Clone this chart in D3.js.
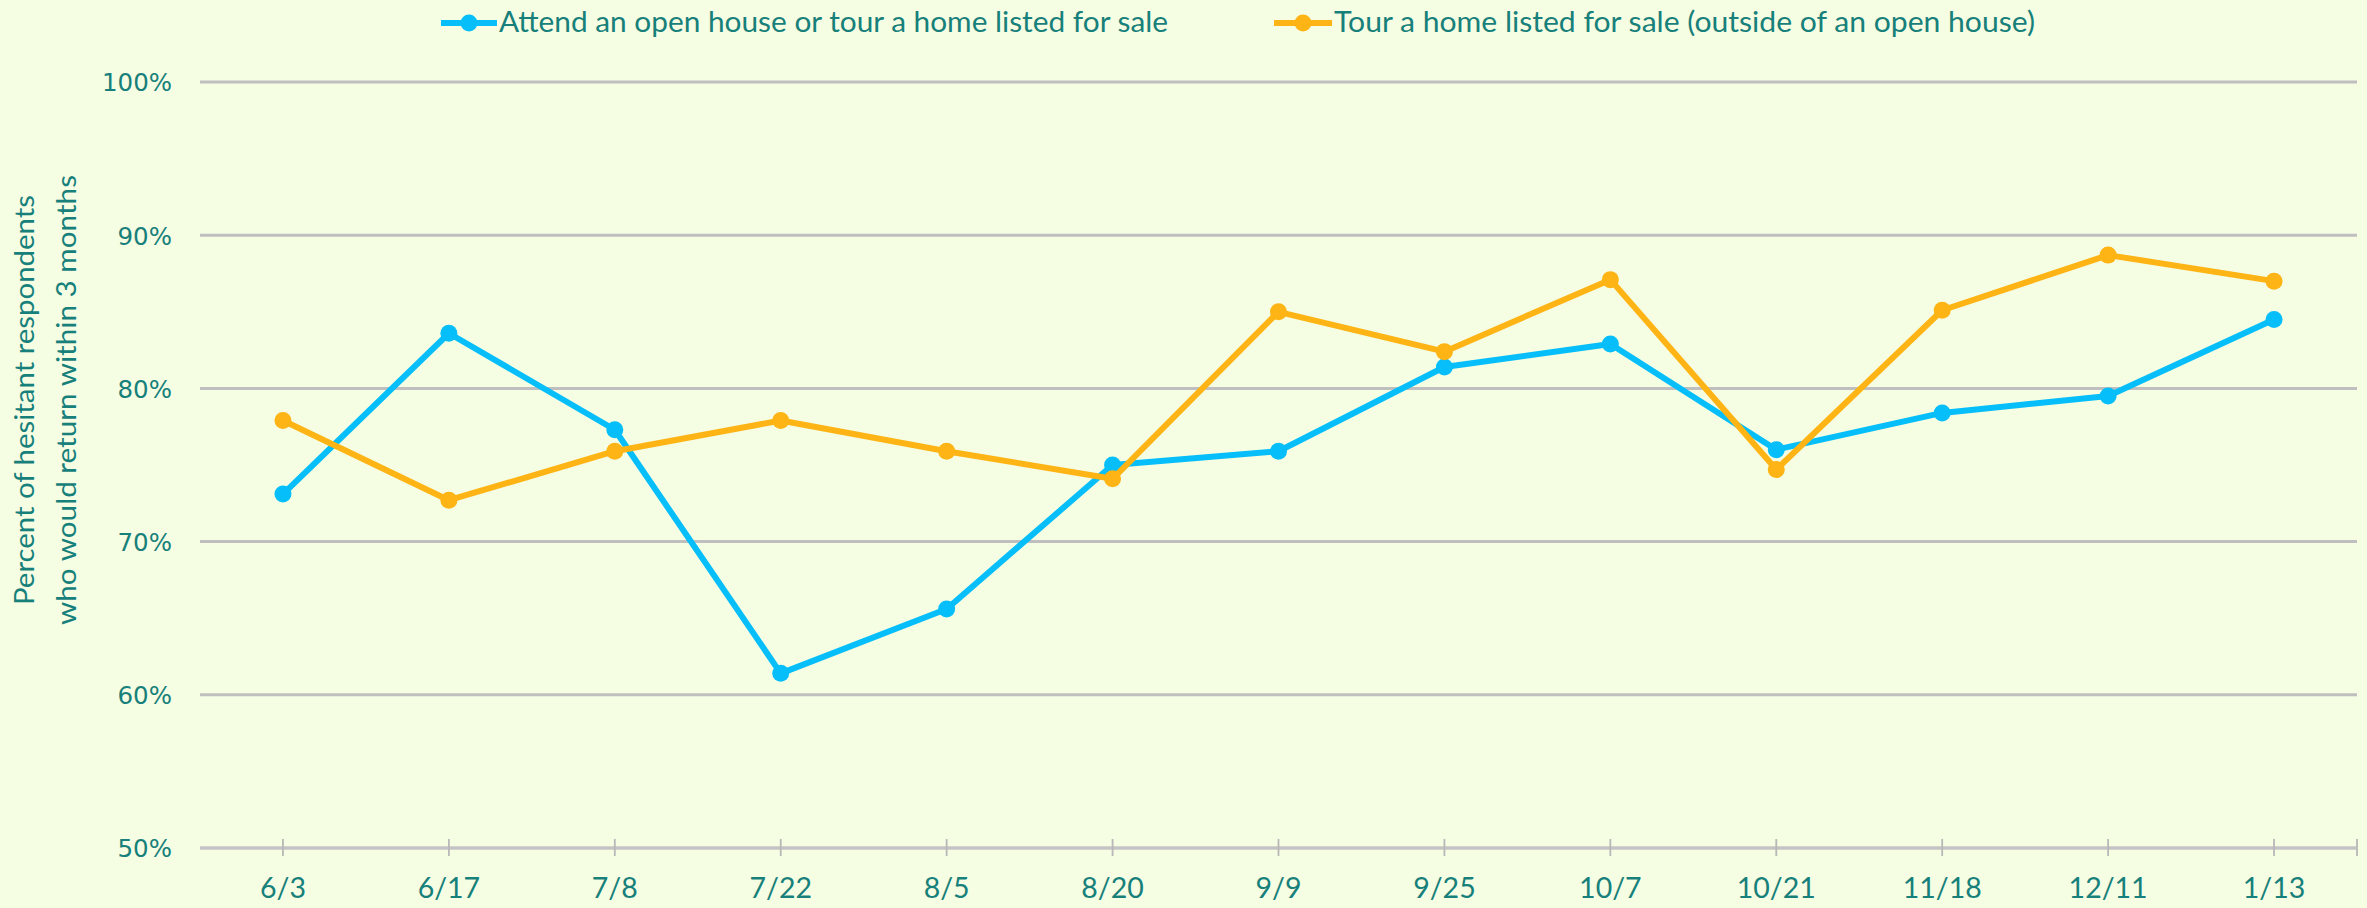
<!DOCTYPE html>
<html>
<head>
<meta charset="utf-8">
<script src="https://cdn.jsdelivr.net/npm/d3@7"></script>
<style>
  html, body { margin: 0; padding: 0; background: #F5FDE3; }
  svg { display: block; }
</style>
</head>
<body>
<svg id="chart" width="2367" height="908"></svg>
<script>
const categories = ["6/3","6/17","7/8","7/22","8/5","8/20","9/9","9/25","10/7","10/21","11/18","12/11","1/13"];
const attendValues = [73.1, 83.6, 77.3, 61.4, 65.6, 75.0, 75.9, 81.4, 82.9, 76.0, 78.4, 79.5, 84.5];
const tourValues   = [77.9, 72.7, 75.9, 77.9, 75.9, 74.1, 85.0, 82.4, 87.1, 74.7, 85.1, 88.7, 87.0];
const seriesNames = ["Attend an open house or tour a home listed for sale", "Tour a home listed for sale (outside of an open house)"];
const seriesColors = ["#06BEF9", "#FDB414"];
const yTicks = [50, 60, 70, 80, 90, 100];
const yTitleLines = ["Percent of hesitant respondents", "who would return within 3 months"];

(function () {
const W = 2367, H = 908;
const plotLeft = 200, plotRight = 2357, plotTop = 82, plotBottom = 848;
const textColor = "#17807A";
const gridColor = "#BFBFBF";

const svg = d3.select("#chart");
svg.append("rect").attr("width", W).attr("height", H).attr("fill", "#F5FDE3");

const x = d3.scaleBand().domain(categories).range([plotLeft, plotRight]).padding(0);
const cx = d => x(d) + x.bandwidth() / 2;
const y = d3.scaleLinear().domain([50, 100]).range([plotBottom, plotTop]);

// gridlines
svg.append("g").selectAll("line").data(yTicks.filter(t => t > 50)).join("line")
  .attr("x1", plotLeft).attr("x2", plotRight)
  .attr("y1", d => y(d)).attr("y2", d => y(d))
  .attr("stroke", gridColor).attr("stroke-width", 3);

// y axis labels
const yAxis = d3.axisLeft(y).tickValues(yTicks).tickFormat(d => d + "%").tickSize(0).tickPadding(0);
const yg = svg.append("g").attr("transform", `translate(172,0)`).call(yAxis);
yg.select(".domain").remove();
yg.selectAll("text")
  .attr("fill", textColor)
  .attr("font-family", "DejaVu Sans")
  .attr("font-size", 24.5)
  .attr("dy", "0.36em");

// x axis
svg.append("line").attr("x1", plotLeft).attr("x2", plotRight).attr("y1", plotBottom).attr("y2", plotBottom)
  .attr("stroke", "#C4C4C4").attr("stroke-width", 3.5);
const tickXs = categories.map(cx).concat([plotRight]);
svg.append("g").selectAll("line").data(tickXs).join("line")
  .attr("x1", d => d).attr("x2", d => d)
  .attr("y1", plotBottom - 9).attr("y2", plotBottom + 8)
  .attr("stroke", "#B8B8B8").attr("stroke-width", 1.8);

const xAxis = d3.axisBottom(x).tickSize(0).tickPadding(0);
const xg = svg.append("g").attr("transform", `translate(0,${plotBottom})`).call(xAxis);
xg.select(".domain").remove();
xg.selectAll("text")
  .attr("fill", textColor)
  .attr("font-family", "Lato")
  .attr("font-size", 28.5)
  .attr("y", 50).attr("dy", 0);

// y title
const titleG = svg.append("g").attr("transform", "translate(0,400) rotate(-90)");
titleG.append("text").text(yTitleLines[0])
  .attr("x", 0).attr("y", 34).attr("text-anchor", "middle")
  .attr("fill", textColor).attr("font-family", "Lato").attr("font-size", 27)
  .attr("textLength", 410).attr("lengthAdjust", "spacingAndGlyphs");
titleG.append("text").text(yTitleLines[1])
  .attr("x", 0).attr("y", 76).attr("text-anchor", "middle")
  .attr("fill", textColor).attr("font-family", "Lato").attr("font-size", 27)
  .attr("textLength", 450).attr("lengthAdjust", "spacingAndGlyphs");

// series
const series = [
  { name: seriesNames[0], values: attendValues, color: seriesColors[0] },
  { name: seriesNames[1], values: tourValues, color: seriesColors[1] }
];
const line = d3.line().x((d, i) => cx(categories[i])).y(d => y(d));
series.forEach(s => {
  const g = svg.append("g");
  g.append("path").datum(s.values).attr("d", line)
    .attr("fill", "none").attr("stroke", s.color).attr("stroke-width", 6)
    .attr("stroke-linejoin", "round");
  g.selectAll("circle").data(s.values).join("circle")
    .attr("cx", (d, i) => cx(categories[i])).attr("cy", d => y(d))
    .attr("r", 8.5).attr("fill", s.color);
});

// legend
const legendItems = [
  { x1: 441, x2: 497, tx: 499, len: 669 },
  { x1: 1274, x2: 1332, tx: 1334, len: 701 }
];
legendItems.forEach((L, i) => {
  const g = svg.append("g");
  g.append("line").attr("x1", L.x1).attr("x2", L.x2).attr("y1", 23).attr("y2", 23)
    .attr("stroke", seriesColors[i]).attr("stroke-width", 6);
  g.append("circle").attr("cx", (L.x1 + L.x2) / 2).attr("cy", 23).attr("r", 8.5).attr("fill", seriesColors[i]);
  g.append("text").text(seriesNames[i]).attr("x", L.tx).attr("y", 32)
    .attr("fill", textColor).attr("font-family", "Lato").attr("font-size", 28)
    .attr("textLength", L.len).attr("lengthAdjust", "spacingAndGlyphs");
});
})();
</script>
</body>
</html>
